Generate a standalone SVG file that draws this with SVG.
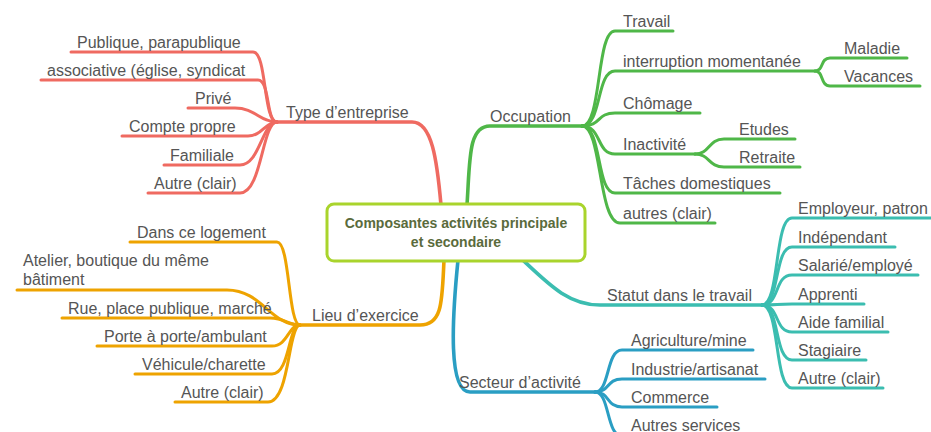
<svg xmlns="http://www.w3.org/2000/svg" width="931" height="432" viewBox="0 0 931 432">
<style>
.l{fill:none;stroke-width:3;stroke-linecap:round;stroke-linejoin:round}
.m{stroke-width:3.6}
.r{stroke:#ef6a61}.g{stroke:#4fb748}.t{stroke:#3bbdb0}.b{stroke:#2a9ec3}.o{stroke:#eea300}
text{font-family:"Liberation Sans",Arial,sans-serif;font-size:16px;fill:#555}
.c{font-size:14px;font-weight:bold;fill:#5a6b3c;text-anchor:middle}
</style>
<rect width="931" height="432" fill="#fff"/>
<g id="connectors">
<!-- main branches -->
<path class="l m r" d="M441,205 C437,160 432,122 412,122 L277,122"/>
<path class="l m g" d="M467,205 C470,160 468,126 490,126 L582,126"/>
<path class="l m t" d="M512,250 C545,280 565,305 600,305 L762,305"/>
<path class="l m b" d="M458,260 C452,320 448,392 470,392 L595,392"/>
<path class="l m o" d="M444,260 C442,300 443,325 420,325 L300,325"/>
<!-- red children -->
<path class="l r" d="M71,52 L253,52 C267,52 263,122 277,122"/>
<path class="l r" d="M41,80 L258,80 C270,80 266,122 277,122"/>
<path class="l r" d="M188,108 L235,108 C255,108 260,122 277,122"/>
<path class="l r" d="M122,136 L248,136 C262,136 265,122 277,122"/>
<path class="l r" d="M164,165 L240,165 C260,165 262,122 277,122"/>
<path class="l r" d="M148,193 L240,193 C262,193 262,122 277,122"/>
<!-- green children -->
<path class="l g" d="M582,126 C602,126 596,31 615,31 L673,31"/>
<path class="l g" d="M582,126 C602,126 596,71 615,71 L815,71"/>
<path class="l g" d="M582,126 C602,126 596,113 615,113 L700,113"/>
<path class="l g" d="M582,126 C602,126 596,154 615,154 L695,154"/>
<path class="l g" d="M582,126 C602,126 596,193 615,193 L780,193"/>
<path class="l g" d="M582,126 C602,126 598,223 620,223 L715,223"/>
<path class="l g" d="M815,71 C824,71 820,58 830,58 L907,58"/>
<path class="l g" d="M815,71 C824,71 820,86 830,86 L920,86"/>
<path class="l g" d="M695,154 C710,154 708,139 724,139 L795,139"/>
<path class="l g" d="M695,154 C710,154 708,167 724,167 L800,167"/>
<!-- teal children -->
<path class="l t" d="M762,305 C780,305 774,218 792,218 L935,218"/>
<path class="l t" d="M762,305 C780,305 774,247 792,247 L895,247"/>
<path class="l t" d="M762,305 C780,305 774,275 792,275 L918,275"/>
<path class="l t" d="M762,305 C780,305 774,304 792,304 L864,304"/>
<path class="l t" d="M762,305 C780,305 774,332 792,332 L888,332"/>
<path class="l t" d="M762,305 C780,305 774,360 792,360 L866,360"/>
<path class="l t" d="M762,305 C780,305 774,388 792,388 L883,388"/>
<!-- blue children -->
<path class="l b" d="M595,392 C610,392 606,350 622,350 L753,350"/>
<path class="l b" d="M595,392 C610,392 606,379 622,379 L765,379"/>
<path class="l b" d="M595,392 C610,392 606,407 622,407 L717,407"/>
<path class="l b" d="M595,392 C610,392 606,436 622,436 L745,436"/>
<!-- orange children -->
<path class="l o" d="M130,242 L277,242 C290,242 288,325 300,325"/>
<path class="l o" d="M17,290 L227,290 C262,290 270,325 300,325"/>
<path class="l o" d="M62,318 L270,318 C285,318 288,325 300,325"/>
<path class="l o" d="M97,346 L272,346 C288,346 288,325 300,325"/>
<path class="l o" d="M135,374 L272,374 C290,374 288,325 300,325"/>
<path class="l o" d="M175,402 L268,402 C290,402 288,325 300,325"/>
</g>
<g id="center">
<rect x="327" y="204" width="258" height="57" rx="7" fill="#fff" stroke="#a9d42c" stroke-width="3"/>
<text class="c" x="456" y="228">Composantes activités principale</text>
<text class="c" x="456" y="247">et secondaire</text>
</g>
<g id="type-entreprise">
<text x="286" y="118">Type d’entreprise</text>
</g>
<g id="type-children">
<text x="77" y="48">Publique, parapublique</text>
<text x="47" y="76">associative (église, syndicat</text>
<text x="195" y="104">Privé</text>
<text x="129" y="132">Compte propre</text>
<text x="170" y="161">Familiale</text>
<text x="154" y="189">Autre (clair)</text>
</g>
<g id="occupation">
<text x="490" y="122">Occupation</text>
</g>
<g id="occupation-children">
<text x="623" y="27">Travail</text>
<text x="623" y="67">interruption momentanée</text>
<text x="844" y="54">Maladie</text>
<text x="844" y="82">Vacances</text>
<text x="623" y="109">Chômage</text>
<text x="623" y="150">Inactivité</text>
<text x="739" y="135">Etudes</text>
<text x="739" y="163">Retraite</text>
<text x="623" y="189">Tâches domestiques</text>
<text x="623" y="219">autres (clair)</text>
</g>
<g id="statut">
<text x="607" y="301">Statut dans le travail</text>
</g>
<g id="statut-children">
<text x="798" y="214">Employeur, patron</text>
<text x="798" y="243">Indépendant</text>
<text x="798" y="271">Salarié/employé</text>
<text x="798" y="300">Apprenti</text>
<text x="798" y="328">Aide familial</text>
<text x="798" y="356">Stagiaire</text>
<text x="798" y="384">Autre (clair)</text>
</g>
<g id="secteur">
<text x="459" y="388">Secteur d’activité</text>
</g>
<g id="secteur-children">
<text x="631" y="346">Agriculture/mine</text>
<text x="631" y="375">Industrie/artisanat</text>
<text x="631" y="403">Commerce</text>
<text x="631" y="431">Autres services</text>
</g>
<g id="lieu">
<text x="312" y="321">Lieu d’exercice</text>
</g>
<g id="lieu-children">
<text x="137" y="238">Dans ce logement</text>
<text x="23" y="266">Atelier, boutique du même</text>
<text x="23" y="285">bâtiment</text>
<text x="68" y="314">Rue, place publique, marché</text>
<text x="104" y="342">Porte à porte/ambulant</text>
<text x="142" y="370">Véhicule/charette</text>
<text x="181" y="398">Autre (clair)</text>
</g>
</svg>
